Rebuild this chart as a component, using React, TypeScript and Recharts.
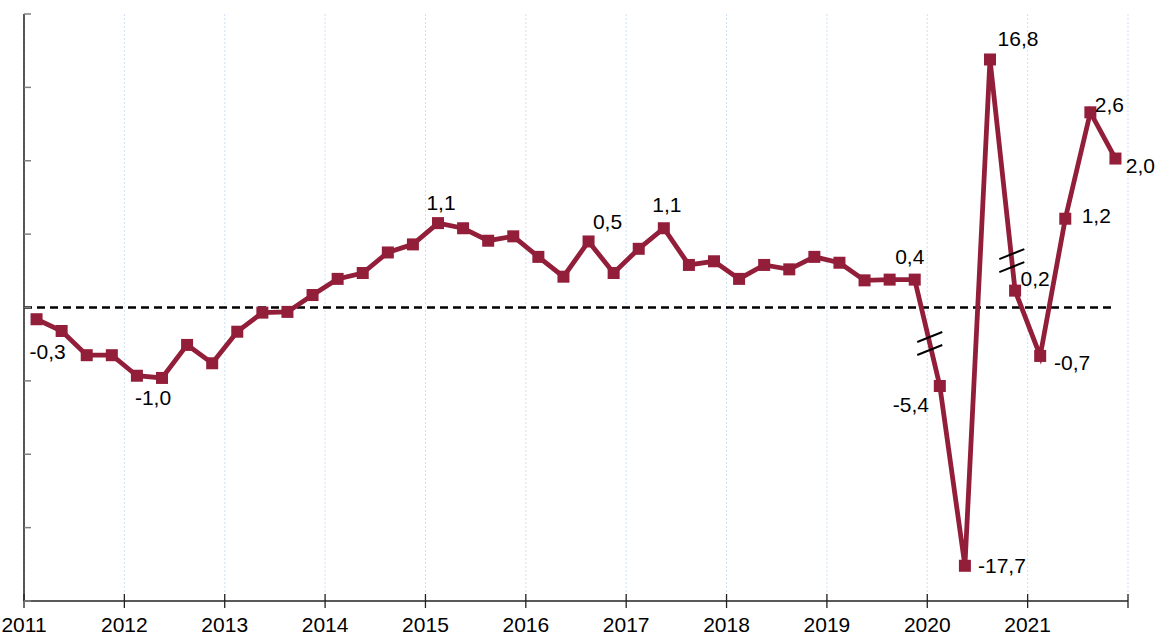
import React from 'react';
import { CartesianGrid, LabelList, Line, LineChart, ReferenceDot, ReferenceLine, XAxis, YAxis } from 'recharts';

const years = ['2011', '2012', '2013', '2014', '2015', '2016', '2017', '2018', '2019', '2020', '2021'];

// plotted position of each quarter (axis is broken for 2020-2021 extremes)
const values = [
  -0.16, -0.32, -0.65, -0.65, -0.93, -0.96, -0.51, -0.76,
  -0.33, -0.07, -0.06, 0.17, 0.39, 0.47, 0.75, 0.86,
  1.15, 1.08, 0.91, 0.97, 0.69, 0.42, 0.9, 0.47,
  0.8, 1.08, 0.58, 0.63, 0.39, 0.58, 0.52, 0.69,
  0.61, 0.37, 0.38, 0.38, -1.07, -3.52, 3.38, 0.23,
  -0.66, 1.21, 2.66, 2.03
];

// printed value next to some points
const pointLabels: Record<number, string> = {
  1: '-0,3',
  5: '-1,0',
  16: '1,1',
  22: '0,5',
  25: '1,1',
  35: '0,4',
  36: '-5,4',
  37: '-17,7',
  38: '16,8',
  39: '0,2',
  40: '-0,7',
  41: '1,2',
  42: '2,6',
  43: '2,0'
};

// axis break marks: segment start index and fraction along the segment
const breaks = [
  { from: 35, t: 0.6 },
  { from: 38, t: 0.87 }
];

const yTicks = [-4, -3, -2, -1, 0, 1, 2, 3, 4];

// label offsets from the point (px)
const labelOffsets: Record<number, [number, number]> = {
  1: [-14, 21],
  5: [-9, 20],
  16: [3, -21],
  22: [19, -20],
  25: [3, -24],
  35: [-5, -23],
  36: [-29, 18],
  37: [37, 0],
  38: [28, -21],
  39: [20, -12],
  40: [32, 7],
  41: [31, -3],
  42: [19, -8],
  43: [25, 7]
};

const COLOR = '#921E3A';
const FONT = '"Liberation Sans", Arial, sans-serif';

const data = values.map((v, i) => ({
  idx: i,
  quarter: `${years[Math.floor(i / 4)]} Q${(i % 4) + 1}`,
  value: v,
  label: pointLabels[i] ?? ''
}));

const xTicks = [...years.map((_, i) => i * 4 - 0.5), years.length * 4 - 0.5];

const breakPoints = breaks.map(({ from, t }) => ({
  x: from + t,
  y: values[from] + t * (values[from + 1] - values[from])
}));

const YearTick = (props: any) => {
  const { x, y, payload } = props;
  const k = Math.round((payload.value + 0.5) / 4);
  return (
    <g>
      <line stroke='#222' strokeWidth={1.3} x1={x} x2={x} y1={y - 7} y2={y + 7} />
      <text fill='#000' fontFamily={FONT} fontSize={21} textAnchor='middle' x={x} y={y + 31}>
        {years[k] ?? ''}
      </text>
    </g>
  );
};

const InnerTick = (props: any) => {
  const { x, y } = props;
  return <line stroke='#808080' strokeWidth={1.5} x1={x} x2={x + 7} y1={y} y2={y} />;
};

const PointLabel = (props: any) => {
  const { x, y, value, index } = props;
  if (!value) return null;
  const [dx, dy] = labelOffsets[index] ?? [0, -20];
  return (
    <text dominantBaseline='central' fill='#000' fontFamily={FONT} fontSize={21} textAnchor='middle' x={x + dx} y={y + dy}>
      {value}
    </text>
  );
};

const SquareDot = (props: any) => {
  const { cx, cy, index } = props;
  return <rect fill={COLOR} height={12} key={`d${index}`} width={12} x={cx - 6} y={cy - 6} />;
};

const BreakMark = (props: any) => {
  const { cx, cy } = props;
  return (
    <g>
      <line stroke='#000' strokeWidth={2} x1={cx - 12.5} x2={cx + 12.5} y1={cy - 1.5} y2={cy - 11.5} />
      <line stroke='#000' strokeWidth={2} x1={cx - 12.5} x2={cx + 12.5} y1={cy + 11.5} y2={cy + 1.5} />
    </g>
  );
};

function App (): JSX.Element {
  return (
    <div style={{ background: '#fff', height: 635, left: 0, position: 'absolute', top: 0, width: 1157 }}>
      <LineChart data={data}
        height={635}
        margin={{ bottom: 0, left: 23, right: 29, top: 14 }}
        width={1157}>
        <CartesianGrid horizontal={false}
          stroke='#cfe0f5'
          strokeDasharray='2 2' />
        <XAxis allowDataOverflow
          axisLine={{ stroke: '#222', strokeWidth: 1.3 }}
          dataKey='idx'
          domain={[-0.5, 43.5]}
          height={34}
          interval={0}
          tick={<YearTick />}
          tickLine={false}
          tickMargin={0}
          tickSize={0}
          ticks={xTicks}
          type='number' />
        <YAxis axisLine={{ stroke: '#000', strokeWidth: 1.3 }}
          domain={[-4, 4]}
          interval={0}
          tick={<InnerTick />}
          tickLine={false}
          tickMargin={0}
          tickSize={0}
          ticks={yTicks}
          type='number'
          width={1} />
        <ReferenceLine segment={[{ x: -0.5, y: 0 }, { x: 42.9, y: 0 }]}
          stroke='#000'
          strokeDasharray='8 5'
          strokeWidth={2.5} />
        <Line dataKey='value'
          dot={SquareDot}
          isAnimationActive={false}
          stroke={COLOR}
          strokeWidth={4.8}
          type='linear'>
          <LabelList content={PointLabel}
            dataKey='label' />
        </Line>
        {breakPoints.map((b, i) => (
          <ReferenceDot ifOverflow='visible'
            key={i}
            r={0}
            shape={BreakMark}
            x={b.x}
            y={b.y} />
        ))}
      </LineChart>
    </div>
  );
}

export default App;
